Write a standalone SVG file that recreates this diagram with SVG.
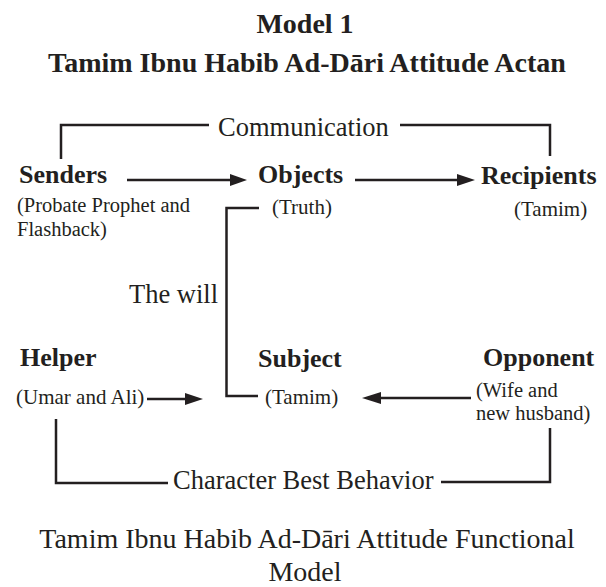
<svg xmlns="http://www.w3.org/2000/svg" width="606" height="587" viewBox="0 0 606 587">
<style>
text{font-family:"Liberation Serif","Times New Roman",serif;fill:#231f20}
.title{font-size:28px;font-weight:bold;text-anchor:middle}
.cap{font-size:28px;text-anchor:middle}
.node{font-size:26px;font-weight:bold}
.sub{font-size:21px}
.sub2{font-size:20.5px}
.lbl{font-size:26.5px}
.ln{fill:none;stroke:#231f20;stroke-width:2.5}
.ah{fill:#231f20}
</style>
<rect width="606" height="587" fill="#fff"/>
<g id="title">
<text class="title" x="305" y="33">Model 1</text>
<text class="title" x="307" y="72">Tamim Ibnu Habib Ad-Dāri Attitude Actan</text>
</g>
<g id="senders">
<text class="node" x="19" y="183">Senders</text>
<text class="sub2" x="17" y="212">(Probate Prophet and</text>
<text class="sub2" x="17" y="235.5">Flashback)</text>
</g>
<g id="objects">
<text class="node" x="258" y="183">Objects</text>
<text class="sub" x="272" y="214">(Truth)</text>
</g>
<g id="recipients">
<text class="node" x="481" y="184">Recipients</text>
<text class="sub" x="514" y="216">(Tamim)</text>
</g>
<g id="helper">
<text class="node" x="20" y="366">Helper</text>
<text class="sub" x="16" y="404">(Umar and Ali)</text>
</g>
<g id="subject">
<text class="node" x="258" y="367">Subject</text>
<text class="sub" x="265" y="404">(Tamim)</text>
</g>
<g id="opponent">
<text class="node" x="483" y="366">Opponent</text>
<text class="sub2" x="476" y="396.5">(Wife and</text>
<text class="sub2" x="476" y="420">new husband)</text>
</g>
<g id="connectors">
<polyline class="ln" points="61,159 61,125 209,125"/>
<polyline class="ln" points="400,125 550,125 550,156"/>
<text class="lbl" x="218" y="136">Communication</text>
<line class="ln" x1="127" y1="180" x2="232" y2="180"/>
<polygon class="ah" points="230,174 247,180 230,186"/>
<line class="ln" x1="355" y1="180" x2="459" y2="180"/>
<polygon class="ah" points="457,174 475,180 457,186"/>
<polyline class="ln" points="259,208 226.5,208 226.5,396 258,396"/>
<text class="lbl" x="129" y="303">The will</text>
<line class="ln" x1="147" y1="399" x2="187" y2="399"/>
<polygon class="ah" points="185,393 203,399 185,405"/>
<line class="ln" x1="379" y1="398" x2="471" y2="398"/>
<polygon class="ah" points="381,392 362,398 381,404"/>
<polyline class="ln" points="56,419 56,483 168,483"/>
<polyline class="ln" points="441,482 550,482 550,428"/>
<text class="lbl" x="173" y="489">Character Best Behavior</text>
</g>
<g id="caption">
<text class="cap" x="307" y="548">Tamim Ibnu Habib Ad-Dāri Attitude Functional</text>
<text class="cap" x="305" y="581">Model</text>
</g>
</svg>
